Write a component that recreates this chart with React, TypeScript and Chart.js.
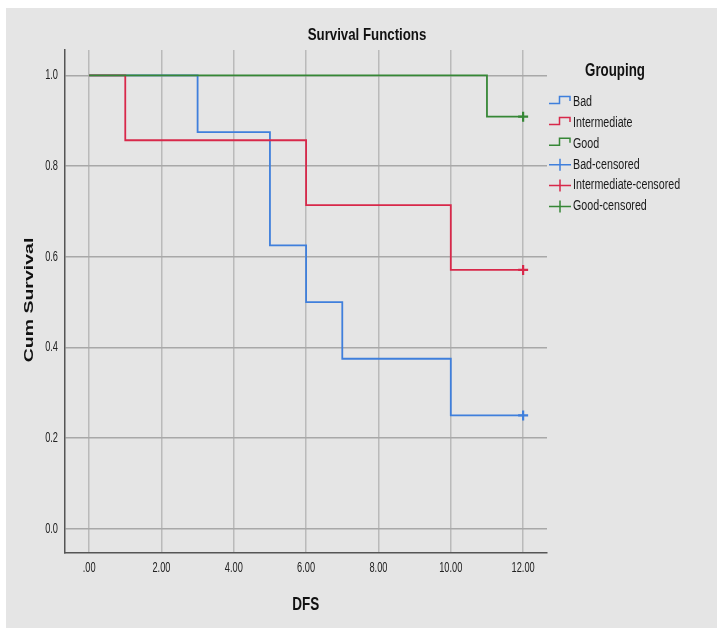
import React, { useEffect, useRef } from "react";
import { Chart, registerables } from "chart.js";

Chart.register(...registerables);

// ---- data ----
const chartTitle = "Survival Functions";
const xAxisTitle = "DFS";
const yAxisTitle = "Cum Survival";
const legendTitle = "Grouping";

const badTimes = [0, 3, 5, 6, 7, 10, 12];
const badSurvival = [1.0, 0.875, 0.625, 0.5, 0.375, 0.25, 0.25];
const intermediateTimes = [0, 1, 6, 10, 12];
const intermediateSurvival = [1.0, 0.857, 0.714, 0.571, 0.571];
const goodTimes = [0, 11, 12];
const goodSurvival = [1.0, 0.909, 0.909];

const censoredBadTimes = [12];
const censoredBadSurvival = [0.25];
const censoredIntermediateTimes = [12];
const censoredIntermediateSurvival = [0.571];
const censoredGoodTimes = [12];
const censoredGoodSurvival = [0.909];

const xTicks = [0, 2, 4, 6, 8, 10, 12];
const xTickLabels = [".00", "2.00", "4.00", "6.00", "8.00", "10.00", "12.00"];
const yTicks = [0, 0.2, 0.4, 0.6, 0.8, 1.0];
const yTickLabels = ["0.0", "0.2", "0.4", "0.6", "0.8", "1.0"];

const legendLabels = [
  "Bad",
  "Intermediate",
  "Good",
  "Bad-censored",
  "Intermediate-censored",
  "Good-censored",
];

// ---- styles ----
const BLUE = "#3f7fdc";
const RED = "#d8284a";
const GREEN = "#368736";
const BG = "#e5e5e5";
const FONT = "'Liberation Sans', Arial, 'DejaVu Sans', sans-serif";

const toPoints = (xs: number[], ys: number[]) => xs.map((x, i) => ({ x, y: ys[i] }));

function squish(
  ctx: CanvasRenderingContext2D,
  text: string,
  x: number,
  y: number,
  font: string,
  sx: number,
  align: CanvasTextAlign,
  color: string
) {
  ctx.save();
  ctx.font = font;
  ctx.fillStyle = color;
  ctx.textAlign = align;
  ctx.textBaseline = "middle";
  ctx.translate(x, y);
  ctx.scale(sx, 1);
  ctx.fillText(text, 0, 0);
  ctx.restore();
}

const backgroundPlugin = {
  id: "bgPanel",
  beforeDraw(chart: any) {
    const ctx = chart.ctx as CanvasRenderingContext2D;
    ctx.save();
    ctx.fillStyle = "#ffffff";
    ctx.fillRect(0, 0, chart.width, chart.height);
    ctx.fillStyle = BG;
    ctx.fillRect(6, 8, chart.width - 6, chart.height - 8);
    ctx.restore();
  },
};

const overlayPlugin = {
  id: "overlay",
  afterDraw(chart: any) {
    const ctx = chart.ctx as CanvasRenderingContext2D;
    const area = chart.chartArea;
    const xs = chart.scales.x;
    const ys = chart.scales.y;

    // tick labels
    xTicks.forEach((v, i) => {
      squish(ctx, xTickLabels[i], xs.getPixelForValue(v), 568, `14px ${FONT}`, 0.66, "center", "#222");
    });
    yTicks.forEach((v, i) => {
      squish(ctx, yTickLabels[i], 58, ys.getPixelForValue(v), `14px ${FONT}`, 0.66, "right", "#222");
    });

    // title
    squish(ctx, chartTitle, 367, 35, `bold 17px ${FONT}`, 0.78, "center", "#111");
    // x title
    squish(ctx, xAxisTitle, (area.left + area.right) / 2, 605, `bold 18px ${FONT}`, 0.75, "center", "#111");
    // y title (rotated)
    ctx.save();
    ctx.font = `bold 19.5px ${FONT}`;
    ctx.fillStyle = "#111";
    ctx.textAlign = "center";
    ctx.textBaseline = "middle";
    ctx.translate(29, 300);
    ctx.rotate(-Math.PI / 2);
    ctx.scale(1, 0.7);
    ctx.fillText(yAxisTitle, 0, 0);
    ctx.restore();

    // legend
    squish(ctx, legendTitle, 615, 71, `bold 18px ${FONT}`, 0.74, "center", "#111");
    const colors = [BLUE, RED, GREEN, BLUE, RED, GREEN];
    legendLabels.forEach((label, i) => {
      const cy = 102 + i * 20.9;
      ctx.save();
      ctx.strokeStyle = colors[i];
      ctx.lineWidth = 1.5;
      ctx.beginPath();
      if (i < 3) {
        ctx.moveTo(549, cy + 1.5);
        ctx.lineTo(559.5, cy + 1.5);
        ctx.lineTo(559.5, cy - 5.5);
        ctx.lineTo(570, cy - 5.5);
        ctx.lineTo(570, cy - 1);
      } else {
        ctx.moveTo(549, cy);
        ctx.lineTo(571, cy);
        ctx.moveTo(560, cy - 6);
        ctx.lineTo(560, cy + 6);
      }
      ctx.stroke();
      ctx.restore();
      squish(ctx, label, 573, cy, `14px ${FONT}`, 0.765, "left", "#1a1a1a");
    });
  },
};

export default function App() {
  const ref = useRef<HTMLCanvasElement | null>(null);

  useEffect(() => {
    if (!ref.current) return;
    const stepLine = (label: string, pts: any[], color: string, order: number) => ({
      type: "line" as const,
      label,
      data: pts,
      borderColor: color,
      backgroundColor: color,
      borderWidth: 1.8,
      pointRadius: 0,
      stepped: true,
      fill: false,
      order,
    });
    const censor = (label: string, pts: any[], color: string) => ({
      type: "line" as const,
      label,
      data: pts,
      showLine: false,
      pointStyle: "cross",
      pointRadius: 5,
      pointBorderWidth: 2.2,
      pointBorderColor: color,
      pointBackgroundColor: color,
      borderColor: color,
      order: 0,
    });

    const chart = new Chart(ref.current, {
      type: "line",
      data: {
        datasets: [
          stepLine("Bad", toPoints(badTimes, badSurvival), BLUE, 3),
          stepLine("Intermediate", toPoints(intermediateTimes, intermediateSurvival), RED, 2),
          stepLine("Good", toPoints(goodTimes, goodSurvival), GREEN, 1),
          censor("Bad-censored", toPoints(censoredBadTimes, censoredBadSurvival), BLUE),
          censor("Intermediate-censored", toPoints(censoredIntermediateTimes, censoredIntermediateSurvival), RED),
          censor("Good-censored", toPoints(censoredGoodTimes, censoredGoodSurvival), GREEN),
        ] as any,
      },
      options: {
        responsive: false,
        animation: false,
        events: [],
        layout: { padding: { left: 0, top: 50, right: 170, bottom: 0 } },
        plugins: {
          legend: { display: false },
          title: { display: false },
          tooltip: { enabled: false },
        },
        scales: {
          x: {
            type: "linear",
            min: -0.68,
            max: 12.66,
            afterBuildTicks: (s: any) => {
              s.ticks = xTicks.map((v) => ({ value: v }));
            },
            afterFit: (s: any) => {
              s.height = 75;
            },
            ticks: { display: false },
            grid: { color: "#bababa", lineWidth: 1.5, drawTicks: false },
            border: { display: true, color: "#555555", width: 1.5 },
          },
          y: {
            type: "linear",
            min: -0.0534,
            max: 1.056,
            afterBuildTicks: (s: any) => {
              s.ticks = yTicks.map((v) => ({ value: v }));
            },
            afterFit: (s: any) => {
              s.width = 64.5;
            },
            ticks: { display: false },
            grid: { color: "#a8a8a8", lineWidth: 1.5, drawTicks: false },
            border: { display: true, color: "#555555", width: 1.5 },
          },
        },
      },
      plugins: [backgroundPlugin, overlayPlugin],
    });
    return () => chart.destroy();
  }, []);

  return (
    <div style={{ position: "fixed", left: 0, top: 0, width: 717, height: 628, background: "#fff" }}>
      <canvas ref={ref} width={717} height={628} style={{ display: "block", width: 717, height: 628 }} />
    </div>
  );
}
